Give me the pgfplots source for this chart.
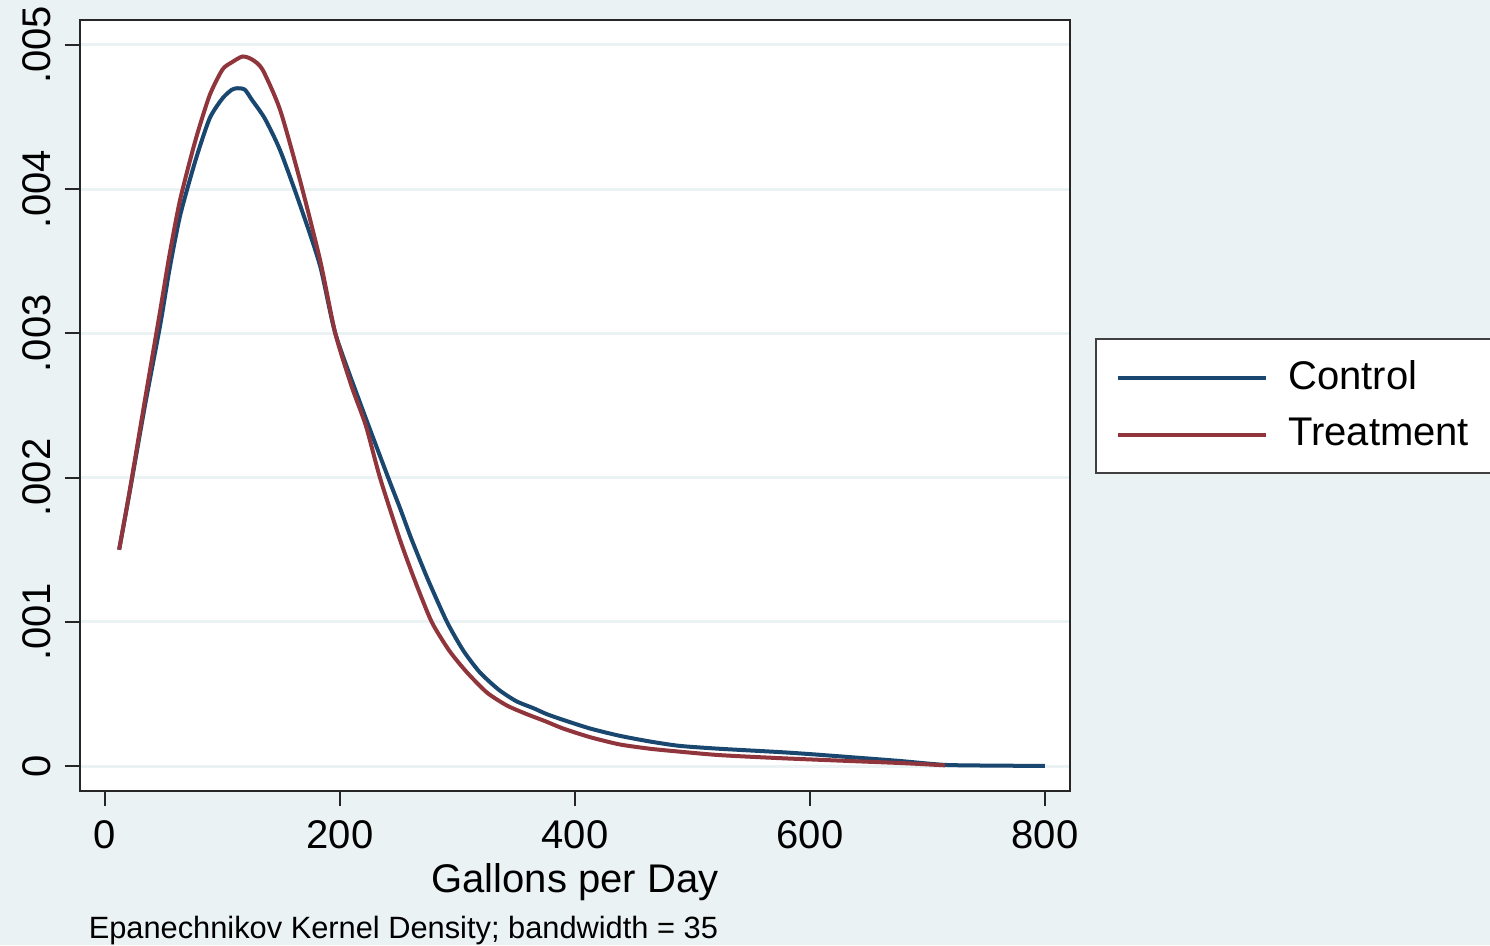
\documentclass[border=0pt]{standalone}
\usepackage{fontspec}
\setmainfont{Liberation Sans}
\usepackage{pgfplots}
\pgfplotsset{compat=1.18}
\definecolor{stbg}{RGB}{234,242,243}
\definecolor{stnavy}{RGB}{26,71,111}
\definecolor{stmaroon}{RGB}{144,53,59}

% kernel density estimates
\pgfplotstableread{
x y
12 0.00150
21 0.00190
34 0.00250
47 0.00306
55 0.00345
64 0.00382
77 0.00420
89 0.00449
100 0.00463
108 0.00469
113 0.00470
119 0.00469
125 0.00462
136 0.00449
149 0.00427
166 0.00389
183 0.00347
196 0.00300
217 0.00252
241 0.00200
251 0.00179
261 0.00157
275 0.00129
291 0.00100
305 0.00080
319 0.00065
335 0.00053
350 0.00045
365 0.00040
376 0.00036
390 0.00032
413 0.00026
438 0.00021
464 0.00017
489 0.00014
523 0.00012
574 0.000097
600 0.000083
634 0.000062
677 0.000035
715 0.000008
760 0.000003
800 0.000001
}\control

\pgfplotstableread{
x y
12 0.00150
21 0.00191
34 0.00254
47 0.00316
55 0.00355
64 0.00393
77 0.00434
89 0.00465
100 0.00483
108 0.00488
117 0.00492
125 0.00490
134 0.00483
149 0.00455
166 0.00406
183 0.00351
196 0.00300
210 0.00263
222 0.00236
234 0.00200
251 0.00157
264 0.00128
278 0.00100
293 0.00080
308 0.00065
325 0.00051
342 0.00042
359 0.00036
375 0.00031
390 0.00026
413 0.00020
438 0.00015
464 0.00012
489 0.00010
523 0.000076
574 0.000055
634 0.000035
680 0.000020
715 0.000005
}\treatment

\begin{document}
\begin{tikzpicture}
\clip (0,0) rectangle (372.5pt,-236.25pt);
\fill[stbg] (0,0) rectangle (372.5pt,-236.25pt);
\begin{axis}[
  at={(20pt,-197.75pt)}, anchor=south west,
  scale only axis, width=247.5pt, height=192.75pt,
  xmin=-21.3, xmax=821.3, ymin=-0.000173, ymax=0.005173,
  axis background/.style={fill=white},
  axis line style={black!85, line width=0.6pt},
  xtick={0,200,400,600,800},
  ytick={0,0.001,0.002,0.003,0.004,0.005},
  yticklabels={0,.001,.002,.003,.004,.005},
  scaled y ticks=false,
  xtick pos=bottom, ytick pos=left,
  tick align=outside, major tick length=3.75pt,
  tick style={black!85, line width=0.5pt},
  ymajorgrids, grid style={stbg, line width=0.75pt},
  /pgf/number format/assume math mode=true,
  tick label style={font=\fontsize{10}{12}\selectfont},
  yticklabel style={rotate=90, anchor=south},
  xlabel={Gallons per Day},
  xlabel style={font=\fontsize{10}{12}\selectfont, at={(axis description cs:0.5,-0.131)}, anchor=base},
  legend style={at={(1.0253,0.5875)}, anchor=north west, draw=black!75, line width=0.6pt,
    fill=white, inner xsep=5pt, inner ysep=3.4pt, row sep=1.5pt,
    font=\fontsize{10}{12}\selectfont,
    nodes={text width=70pt}},
  legend cell align=left,
  legend image code/.code={\draw[#1] (0pt,0pt) -- (37pt,0pt); \path (40pt,0pt);},
]
\addplot[stnavy, line width=1pt, smooth, tension=0.4] table[x=x, y=y] {\control};
\addlegendentry{Control}
\addplot[stmaroon, line width=1pt, smooth, tension=0.4] table[x=x, y=y] {\treatment};
\addlegendentry{Treatment}
\end{axis}
\node[anchor=base west, inner sep=0pt, font=\fontsize{7.7}{9}\selectfont] at (22pt,-234.5pt) {Epanechnikov Kernel Density; bandwidth = 35};
\end{tikzpicture}
\end{document}
